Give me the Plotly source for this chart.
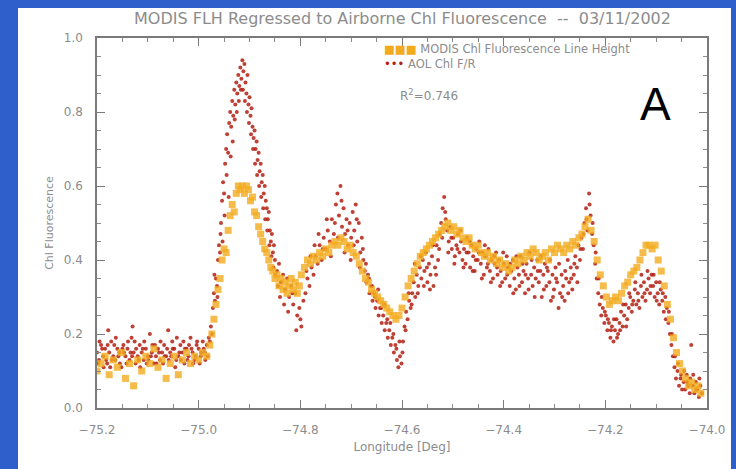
import plotly.graph_objects as go

# ---------------- data ----------------
modis_points = [
    (-75.200, 0.10), (-75.192, 0.12), (-75.184, 0.14), (-75.176, 0.09), (-75.168, 0.13),
    (-75.160, 0.11), (-75.152, 0.15), (-75.144, 0.08), (-75.136, 0.12), (-75.128, 0.06),
    (-75.120, 0.13), (-75.112, 0.10), (-75.104, 0.14), (-75.096, 0.12), (-75.088, 0.16),
    (-75.080, 0.11), (-75.072, 0.13), (-75.064, 0.08), (-75.056, 0.12), (-75.048, 0.14),
    (-75.040, 0.09), (-75.032, 0.13), (-75.024, 0.15), (-75.016, 0.12), (-75.008, 0.14),
    (-75.000, 0.13), (-74.992, 0.15), (-74.984, 0.14),
    (-74.978, 0.17), (-74.974, 0.20), (-74.970, 0.24), (-74.966, 0.28), (-74.962, 0.32),
    (-74.958, 0.35), (-74.954, 0.40), (-74.950, 0.43), (-74.946, 0.42), (-74.942, 0.48),
    (-74.938, 0.52), (-74.934, 0.55), (-74.930, 0.53), (-74.926, 0.58), (-74.922, 0.60),
    (-74.918, 0.59), (-74.914, 0.60), (-74.910, 0.58), (-74.906, 0.60), (-74.902, 0.59),
    (-74.898, 0.56), (-74.894, 0.57), (-74.890, 0.53), (-74.886, 0.52), (-74.882, 0.49),
    (-74.878, 0.47), (-74.874, 0.45), (-74.870, 0.43), (-74.866, 0.42), (-74.862, 0.40),
    (-74.858, 0.38), (-74.854, 0.37), (-74.850, 0.35), (-74.846, 0.36), (-74.842, 0.33),
    (-74.838, 0.35), (-74.834, 0.32), (-74.830, 0.34), (-74.826, 0.31), (-74.822, 0.33),
    (-74.818, 0.35), (-74.814, 0.32), (-74.810, 0.34), (-74.806, 0.31), (-74.802, 0.33),
    (-74.798, 0.36), (-74.792, 0.38), (-74.786, 0.40), (-74.780, 0.39), (-74.774, 0.41),
    (-74.768, 0.40), (-74.762, 0.42), (-74.756, 0.41), (-74.750, 0.43), (-74.744, 0.42),
    (-74.738, 0.44), (-74.732, 0.45), (-74.726, 0.44), (-74.720, 0.46), (-74.714, 0.45),
    (-74.708, 0.43), (-74.702, 0.44), (-74.696, 0.42), (-74.690, 0.41), (-74.684, 0.39),
    (-74.678, 0.37), (-74.672, 0.35), (-74.666, 0.34), (-74.660, 0.32), (-74.654, 0.31),
    (-74.648, 0.30), (-74.642, 0.29), (-74.636, 0.28), (-74.630, 0.27), (-74.624, 0.26),
    (-74.618, 0.25), (-74.612, 0.24), (-74.606, 0.25), (-74.600, 0.27), (-74.594, 0.30),
    (-74.588, 0.33), (-74.582, 0.35), (-74.576, 0.37), (-74.570, 0.39), (-74.564, 0.41),
    (-74.558, 0.42), (-74.552, 0.43), (-74.546, 0.44), (-74.540, 0.45), (-74.534, 0.46),
    (-74.528, 0.47), (-74.522, 0.48), (-74.516, 0.49), (-74.510, 0.50), (-74.504, 0.48),
    (-74.498, 0.49), (-74.492, 0.47), (-74.486, 0.48), (-74.480, 0.46), (-74.474, 0.45),
    (-74.468, 0.46), (-74.462, 0.44), (-74.456, 0.43), (-74.450, 0.44), (-74.444, 0.42),
    (-74.438, 0.41), (-74.432, 0.42), (-74.426, 0.40), (-74.420, 0.41), (-74.414, 0.39),
    (-74.408, 0.40), (-74.402, 0.38), (-74.396, 0.39), (-74.390, 0.37), (-74.384, 0.38),
    (-74.378, 0.40), (-74.372, 0.39), (-74.366, 0.41), (-74.360, 0.40), (-74.354, 0.42),
    (-74.348, 0.41), (-74.342, 0.43), (-74.336, 0.42), (-74.330, 0.40), (-74.324, 0.41),
    (-74.318, 0.42), (-74.312, 0.40), (-74.306, 0.43), (-74.300, 0.42), (-74.294, 0.44),
    (-74.288, 0.43), (-74.282, 0.42), (-74.276, 0.44), (-74.270, 0.43), (-74.264, 0.45),
    (-74.258, 0.44), (-74.252, 0.46), (-74.246, 0.47), (-74.240, 0.49), (-74.234, 0.51),
    (-74.228, 0.48), (-74.222, 0.45), (-74.216, 0.40), (-74.210, 0.36), (-74.204, 0.33),
    (-74.198, 0.30), (-74.192, 0.28), (-74.186, 0.29), (-74.180, 0.30), (-74.174, 0.29),
    (-74.168, 0.31), (-74.162, 0.33), (-74.156, 0.34), (-74.150, 0.36), (-74.144, 0.37),
    (-74.138, 0.38), (-74.132, 0.40), (-74.126, 0.42), (-74.120, 0.44), (-74.114, 0.44),
    (-74.108, 0.43), (-74.102, 0.44), (-74.096, 0.40), (-74.090, 0.37), (-74.084, 0.33),
    (-74.078, 0.28), (-74.072, 0.24), (-74.066, 0.19), (-74.060, 0.15), (-74.054, 0.12),
    (-74.048, 0.10), (-74.042, 0.08), (-74.036, 0.06), (-74.030, 0.07), (-74.024, 0.05),
    (-74.018, 0.06), (-74.012, 0.04),
]

aol_points = [
    # flat coastal segment
    (-75.200, 0.15), (-75.198, 0.12), (-75.196, 0.13), (-75.192, 0.17), (-75.190, 0.16),
    (-75.188, 0.14), (-75.184, 0.16), (-75.182, 0.13), (-75.180, 0.12), (-75.178, 0.21),
    (-75.176, 0.15), (-75.174, 0.11), (-75.172, 0.18), (-75.168, 0.14), (-75.166, 0.17),
    (-75.164, 0.13), (-75.160, 0.16), (-75.158, 0.14), (-75.156, 0.15), (-75.152, 0.11),
    (-75.150, 0.16), (-75.148, 0.17), (-75.144, 0.14), (-75.142, 0.12), (-75.140, 0.16),
    (-75.136, 0.13), (-75.134, 0.15), (-75.132, 0.19), (-75.130, 0.22), (-75.128, 0.15),
    (-75.126, 0.18), (-75.124, 0.12), (-75.120, 0.14), (-75.118, 0.13), (-75.116, 0.17),
    (-75.112, 0.15), (-75.110, 0.16), (-75.108, 0.13), (-75.104, 0.16), (-75.102, 0.12),
    (-75.100, 0.14), (-75.096, 0.20), (-75.094, 0.14), (-75.092, 0.15), (-75.088, 0.12),
    (-75.086, 0.17), (-75.084, 0.14), (-75.080, 0.16), (-75.078, 0.15), (-75.076, 0.13),
    (-75.072, 0.15), (-75.070, 0.12), (-75.068, 0.17), (-75.064, 0.14), (-75.062, 0.16),
    (-75.060, 0.21), (-75.056, 0.15), (-75.054, 0.14), (-75.052, 0.18), (-75.048, 0.16),
    (-75.046, 0.11), (-75.044, 0.13), (-75.040, 0.14), (-75.038, 0.15), (-75.036, 0.17),
    (-75.032, 0.15), (-75.030, 0.18), (-75.028, 0.12), (-75.024, 0.16), (-75.022, 0.13),
    (-75.020, 0.14), (-75.016, 0.19), (-75.014, 0.16), (-75.012, 0.15), (-75.008, 0.13),
    (-75.006, 0.14), (-75.004, 0.17), (-75.000, 0.16), (-74.998, 0.12), (-74.996, 0.14),
    (-74.992, 0.18), (-74.990, 0.16), (-74.988, 0.15), (-74.984, 0.17), (-74.982, 0.14),
    (-74.980, 0.19),
    # first bloom
    (-74.978, 0.18), (-74.976, 0.22), (-74.974, 0.20), (-74.972, 0.27), (-74.970, 0.31),
    (-74.968, 0.29), (-74.966, 0.35), (-74.964, 0.33), (-74.962, 0.40), (-74.960, 0.44),
    (-74.958, 0.42), (-74.956, 0.50), (-74.954, 0.56), (-74.952, 0.61), (-74.950, 0.58),
    (-74.948, 0.66), (-74.946, 0.70), (-74.944, 0.74), (-74.942, 0.69), (-74.940, 0.77),
    (-74.938, 0.80), (-74.936, 0.76), (-74.934, 0.83), (-74.932, 0.79), (-74.930, 0.86),
    (-74.928, 0.82), (-74.926, 0.88), (-74.924, 0.85), (-74.922, 0.90), (-74.920, 0.87),
    (-74.918, 0.92), (-74.916, 0.89), (-74.914, 0.94), (-74.912, 0.91), (-74.910, 0.93),
    (-74.908, 0.88), (-74.906, 0.85), (-74.904, 0.90), (-74.902, 0.82), (-74.900, 0.84),
    (-74.898, 0.79), (-74.896, 0.81), (-74.894, 0.76), (-74.892, 0.73), (-74.890, 0.75),
    (-74.888, 0.70), (-74.886, 0.72), (-74.884, 0.67), (-74.882, 0.69), (-74.880, 0.64),
    (-74.878, 0.66), (-74.876, 0.61), (-74.874, 0.63), (-74.872, 0.58), (-74.870, 0.60),
    (-74.868, 0.56), (-74.866, 0.54), (-74.864, 0.51), (-74.862, 0.53), (-74.860, 0.48),
    (-74.858, 0.45), (-74.856, 0.47), (-74.854, 0.42), (-74.852, 0.44), (-74.850, 0.40),
    (-74.846, 0.37), (-74.842, 0.39), (-74.838, 0.34), (-74.834, 0.36), (-74.830, 0.32),
    (-74.826, 0.35), (-74.822, 0.30), (-74.818, 0.33), (-74.814, 0.28), (-74.810, 0.31),
    (-74.806, 0.25), (-74.802, 0.27), (-74.798, 0.22), (-74.794, 0.29),
    # second bloom and trough
    (-74.790, 0.31), (-74.786, 0.35), (-74.782, 0.33), (-74.778, 0.38), (-74.774, 0.36),
    (-74.770, 0.41), (-74.766, 0.39), (-74.762, 0.44), (-74.758, 0.40), (-74.754, 0.46),
    (-74.750, 0.43), (-74.746, 0.48), (-74.742, 0.45), (-74.738, 0.51), (-74.734, 0.47),
    (-74.730, 0.55), (-74.727, 0.58), (-74.724, 0.52), (-74.721, 0.60), (-74.718, 0.49),
    (-74.715, 0.54), (-74.712, 0.47), (-74.709, 0.51), (-74.706, 0.44), (-74.703, 0.50),
    (-74.700, 0.46), (-74.697, 0.53), (-74.694, 0.48), (-74.691, 0.55), (-74.688, 0.45),
    (-74.685, 0.50), (-74.682, 0.42), (-74.679, 0.46), (-74.676, 0.40), (-74.673, 0.37),
    (-74.670, 0.34), (-74.667, 0.36), (-74.664, 0.31), (-74.661, 0.33), (-74.658, 0.29),
    (-74.655, 0.31), (-74.652, 0.27), (-74.649, 0.29), (-74.646, 0.25), (-74.643, 0.27),
    (-74.640, 0.23), (-74.637, 0.25), (-74.634, 0.21), (-74.631, 0.23), (-74.628, 0.19),
    (-74.625, 0.21), (-74.622, 0.17), (-74.619, 0.19), (-74.616, 0.15), (-74.613, 0.17),
    (-74.610, 0.13), (-74.607, 0.11), (-74.604, 0.14), (-74.601, 0.12), (-74.598, 0.18),
    (-74.595, 0.22), (-74.592, 0.26), (-74.589, 0.24), (-74.586, 0.29), (-74.583, 0.27),
    (-74.580, 0.31), (-74.577, 0.34), (-74.574, 0.30), (-74.571, 0.36), (-74.568, 0.33),
    (-74.565, 0.38), (-74.562, 0.35), (-74.559, 0.40), (-74.556, 0.37), (-74.553, 0.42),
    (-74.550, 0.34), (-74.547, 0.39), (-74.544, 0.36), (-74.541, 0.41), (-74.538, 0.33),
    (-74.535, 0.38), (-74.532, 0.44), (-74.529, 0.40), (-74.526, 0.47), (-74.523, 0.50),
    (-74.520, 0.54), (-74.517, 0.57), (-74.514, 0.51), (-74.511, 0.48), (-74.508, 0.45),
    (-74.505, 0.49), (-74.502, 0.43), (-74.499, 0.46), (-74.496, 0.41), (-74.493, 0.44),
    (-74.490, 0.47), (-74.487, 0.42), (-74.484, 0.45), (-74.481, 0.40), (-74.478, 0.43),
    (-74.475, 0.39), (-74.472, 0.46), (-74.469, 0.42), (-74.466, 0.38), (-74.463, 0.44),
    (-74.460, 0.41), (-74.457, 0.37), (-74.454, 0.43), (-74.451, 0.40), (-74.448, 0.45),
    (-74.445, 0.39), (-74.442, 0.42), (-74.439, 0.36), (-74.436, 0.41), (-74.433, 0.38),
    (-74.430, 0.43), (-74.427, 0.37), (-74.424, 0.40), (-74.421, 0.35), (-74.418, 0.39),
    (-74.415, 0.42), (-74.412, 0.36), (-74.409, 0.40), (-74.406, 0.37), (-74.403, 0.34),
    (-74.400, 0.39),
    # offshore plateau, third peak, drop-off
    (-74.397, 0.35), (-74.394, 0.41), (-74.391, 0.38), (-74.388, 0.33), (-74.385, 0.37),
    (-74.382, 0.40), (-74.379, 0.35), (-74.376, 0.32), (-74.373, 0.38), (-74.370, 0.36),
    (-74.367, 0.41), (-74.364, 0.34), (-74.361, 0.37), (-74.358, 0.31), (-74.355, 0.39),
    (-74.352, 0.35), (-74.349, 0.42), (-74.346, 0.36), (-74.343, 0.33), (-74.340, 0.38),
    (-74.337, 0.35), (-74.334, 0.40), (-74.331, 0.34), (-74.328, 0.37), (-74.325, 0.30),
    (-74.322, 0.36), (-74.319, 0.39), (-74.316, 0.33), (-74.313, 0.37), (-74.310, 0.34),
    (-74.307, 0.29), (-74.304, 0.36), (-74.301, 0.32), (-74.298, 0.38), (-74.295, 0.34),
    (-74.292, 0.27), (-74.289, 0.31), (-74.286, 0.36), (-74.283, 0.33), (-74.280, 0.29),
    (-74.277, 0.35), (-74.274, 0.40), (-74.271, 0.34), (-74.268, 0.38), (-74.265, 0.32),
    (-74.262, 0.36), (-74.259, 0.41), (-74.256, 0.38), (-74.253, 0.44), (-74.250, 0.40),
    (-74.247, 0.46), (-74.244, 0.43), (-74.241, 0.50), (-74.238, 0.54), (-74.235, 0.48),
    (-74.232, 0.58), (-74.229, 0.52), (-74.226, 0.47), (-74.223, 0.44), (-74.220, 0.39),
    (-74.217, 0.35), (-74.214, 0.31), (-74.211, 0.28), (-74.208, 0.25), (-74.205, 0.27),
    (-74.202, 0.23), (-74.199, 0.25), (-74.196, 0.21), (-74.193, 0.23), (-74.190, 0.19),
    (-74.187, 0.22), (-74.184, 0.18), (-74.181, 0.21), (-74.178, 0.24), (-74.175, 0.20),
    (-74.172, 0.23), (-74.169, 0.26), (-74.166, 0.22), (-74.163, 0.25), (-74.160, 0.28),
    (-74.157, 0.24), (-74.154, 0.27), (-74.151, 0.30), (-74.148, 0.26), (-74.145, 0.29),
    (-74.142, 0.32), (-74.139, 0.28), (-74.136, 0.31), (-74.133, 0.27), (-74.130, 0.33),
    (-74.127, 0.30), (-74.124, 0.34), (-74.121, 0.29), (-74.118, 0.32), (-74.115, 0.35),
    (-74.112, 0.31), (-74.109, 0.36), (-74.106, 0.33), (-74.103, 0.30), (-74.100, 0.34),
    (-74.097, 0.31), (-74.094, 0.28), (-74.091, 0.32), (-74.088, 0.29), (-74.085, 0.26),
    (-74.082, 0.30), (-74.079, 0.27), (-74.076, 0.23), (-74.073, 0.20), (-74.070, 0.17),
    (-74.067, 0.14), (-74.064, 0.11), (-74.061, 0.08), (-74.058, 0.10), (-74.055, 0.06),
    (-74.052, 0.08), (-74.049, 0.05), (-74.046, 0.07), (-74.043, 0.05), (-74.040, 0.09),
    (-74.037, 0.06), (-74.034, 0.04), (-74.031, 0.17), (-74.028, 0.06), (-74.025, 0.04),
    (-74.022, 0.07), (-74.019, 0.05), (-74.016, 0.03), (-74.013, 0.06), (-74.010, 0.04),
    # additional scattered samples (second pass of the band)
    (-75.195, 0.18), (-75.187, 0.11), (-75.179, 0.17), (-75.171, 0.13), (-75.163, 0.19),
    (-75.155, 0.12), (-75.147, 0.15), (-75.139, 0.18), (-75.131, 0.14), (-75.123, 0.16),
    (-75.115, 0.11), (-75.107, 0.18), (-75.099, 0.13), (-75.091, 0.17), (-75.083, 0.12),
    (-75.075, 0.18), (-75.067, 0.14), (-75.059, 0.13), (-75.051, 0.16), (-75.043, 0.19),
    (-75.035, 0.13), (-75.027, 0.16), (-75.019, 0.17), (-75.011, 0.12), (-75.003, 0.18),
    (-74.995, 0.15), (-74.987, 0.13),
    (-74.969, 0.36), (-74.963, 0.30), (-74.957, 0.47), (-74.953, 0.45), (-74.949, 0.52),
    (-74.945, 0.63), (-74.941, 0.57), (-74.937, 0.68), (-74.933, 0.72), (-74.929, 0.78),
    (-74.925, 0.80), (-74.921, 0.83), (-74.917, 0.86), (-74.913, 0.86), (-74.909, 0.83),
    (-74.905, 0.80), (-74.901, 0.77), (-74.897, 0.74), (-74.893, 0.70), (-74.889, 0.66),
    (-74.885, 0.63), (-74.881, 0.60), (-74.877, 0.57), (-74.873, 0.54), (-74.869, 0.51),
    (-74.865, 0.48), (-74.861, 0.44), (-74.857, 0.41), (-74.853, 0.38), (-74.849, 0.36),
    (-74.844, 0.33), (-74.840, 0.30), (-74.832, 0.28), (-74.824, 0.26), (-74.816, 0.31),
    (-74.808, 0.21), (-74.800, 0.24),
    (-74.788, 0.37), (-74.780, 0.41), (-74.772, 0.44), (-74.764, 0.47), (-74.756, 0.43),
    (-74.748, 0.51), (-74.740, 0.41), (-74.732, 0.50), (-74.726, 0.46), (-74.719, 0.56),
    (-74.713, 0.42), (-74.707, 0.48), (-74.701, 0.40), (-74.695, 0.44), (-74.689, 0.51),
    (-74.683, 0.38), (-74.677, 0.43), (-74.671, 0.39), (-74.665, 0.35), (-74.659, 0.33),
    (-74.653, 0.30), (-74.647, 0.32), (-74.641, 0.27), (-74.635, 0.28), (-74.629, 0.24),
    (-74.623, 0.23), (-74.617, 0.20), (-74.611, 0.16), (-74.605, 0.18), (-74.599, 0.15),
    (-74.593, 0.21), (-74.587, 0.31), (-74.581, 0.28), (-74.575, 0.39), (-74.569, 0.31),
    (-74.563, 0.41), (-74.557, 0.33), (-74.551, 0.38), (-74.545, 0.32), (-74.539, 0.44),
    (-74.533, 0.36), (-74.527, 0.43), (-74.521, 0.46), (-74.515, 0.53), (-74.509, 0.42),
    (-74.503, 0.46), (-74.497, 0.39), (-74.491, 0.43), (-74.485, 0.48), (-74.479, 0.38),
    (-74.473, 0.42), (-74.467, 0.45), (-74.461, 0.37), (-74.455, 0.40), (-74.449, 0.42),
    (-74.443, 0.35), (-74.437, 0.44), (-74.431, 0.39), (-74.425, 0.34), (-74.419, 0.41),
    (-74.413, 0.38), (-74.407, 0.33), (-74.401, 0.42),
    (-74.393, 0.36), (-74.387, 0.39), (-74.381, 0.31), (-74.375, 0.41), (-74.369, 0.33),
    (-74.363, 0.39), (-74.357, 0.36), (-74.351, 0.32), (-74.345, 0.40), (-74.339, 0.30),
    (-74.333, 0.37), (-74.327, 0.41), (-74.321, 0.32), (-74.315, 0.38), (-74.309, 0.40),
    (-74.303, 0.30), (-74.297, 0.35), (-74.291, 0.39), (-74.285, 0.30), (-74.279, 0.37),
    (-74.273, 0.31), (-74.267, 0.35), (-74.261, 0.39), (-74.255, 0.34), (-74.249, 0.43),
    (-74.243, 0.47), (-74.237, 0.51), (-74.231, 0.55), (-74.225, 0.50), (-74.219, 0.42),
    (-74.213, 0.35), (-74.207, 0.30), (-74.201, 0.26), (-74.195, 0.24), (-74.189, 0.21),
    (-74.183, 0.24), (-74.177, 0.19), (-74.171, 0.21), (-74.165, 0.28), (-74.159, 0.22),
    (-74.153, 0.31), (-74.147, 0.28), (-74.141, 0.34), (-74.135, 0.29), (-74.129, 0.36),
    (-74.123, 0.31), (-74.117, 0.37), (-74.111, 0.33), (-74.105, 0.36), (-74.099, 0.29),
    (-74.093, 0.34), (-74.087, 0.31), (-74.081, 0.24), (-74.075, 0.26), (-74.069, 0.20),
    (-74.063, 0.14), (-74.057, 0.12), (-74.051, 0.09), (-74.045, 0.10), (-74.039, 0.07),
    (-74.033, 0.08), (-74.027, 0.09), (-74.021, 0.05), (-74.015, 0.08),
]

modis_lon = [p[0] for p in modis_points]
modis_chl = [p[1] for p in modis_points]
aol_lon = [p[0] for p in aol_points]
aol_chl = [p[1] for p in aol_points]

x_ticks = [-75.2, -75.0, -74.8, -74.6, -74.4, -74.2, -74.0]
x_tick_labels = ["\u221275.2", "\u221275.0", "\u221274.8", "\u221274.6", "\u221274.4", "\u221274.2", "\u221274.0"]
y_ticks = [0.0, 0.2, 0.4, 0.6, 0.8, 1.0]
y_tick_labels = ["0.0", "0.2", "0.4", "0.6", "0.8", "1.0"]

title_text = "MODIS FLH Regressed to Airborne Chl Fluorescence  --  03/11/2002"
legend_modis = "MODIS Chl Fluorescence Line Height"
legend_aol = "AOL Chl F/R"
r2_text = "R<sup>2</sup>=0.746"

# ---------------- figure ----------------
W, H = 736, 469
L, R, T, B = 97, 29, 38, 61
pw, ph = W - L - R, H - T - B

def px(x):
    return (x - L) / pw

def py(y):
    return (H - B - y) / ph

grey = "#8c8c8c"
font = "DejaVu Sans"
modis_color = "#f2ab1e"
aol_color = "#b41e12"

fig = go.Figure()
fig.add_trace(go.Scatter(
    x=aol_lon, y=aol_chl, mode="markers", name=legend_aol,
    marker=dict(symbol="circle", size=4, color=aol_color, opacity=0.85, line=dict(width=0)),
))
fig.add_trace(go.Scatter(
    x=modis_lon, y=modis_chl, mode="markers", name=legend_modis,
    marker=dict(symbol="square", size=7, color=modis_color, opacity=0.8, line=dict(width=0)),
))

axis_common = dict(
    showgrid=False, zeroline=False, showline=True, linecolor="#7a7a7a", linewidth=1.5,
    mirror="allticks", ticks="inside", ticklen=8, tickcolor="#7a7a7a", tickwidth=1,
    tickfont=dict(family=font, size=12, color=grey),
)

fig.update_xaxes(
    range=[-75.2, -74.0], tickvals=x_ticks, ticktext=x_tick_labels,
    minor=dict(ticks="inside", ticklen=4, dtick=0.05, tick0=-75.2, tickcolor="#8a8a8a"),
    ticklabelstandoff=10,
    title=dict(text="Longitude [Deg]", font=dict(family=font, size=12, color=grey), standoff=6),
    **axis_common,
)
fig.update_yaxes(
    range=[0.0, 1.0], tickvals=y_ticks, ticktext=y_tick_labels,
    minor=dict(ticks="inside", ticklen=4, dtick=0.05, tick0=0, tickcolor="#8a8a8a"),
    ticklabelstandoff=10,
    title=dict(text="Chl Fluorescence", font=dict(family=font, size=11, color=grey), standoff=8),
    **axis_common,
)

fig.add_shape(type="rect", xref="paper", yref="paper", layer="below",
              x0=px(18), x1=px(731), y0=py(472), y1=py(8),
              fillcolor="white", line=dict(width=0))

fig.add_annotation(xref="paper", yref="paper", x=0.5, y=py(18), xanchor="center", yanchor="middle",
                   text=title_text, showarrow=False,
                   font=dict(family=font, size=16, color=grey))
fig.add_annotation(xref="paper", yref="paper", x=px(382), y=py(49), xanchor="left", yanchor="middle",
                   text=f"<span style='color:{modis_color}'>\u25a0\u25a0\u25a0</span> {legend_modis}",
                   showarrow=False, font=dict(family=font, size=11.5, color=grey))
fig.add_annotation(xref="paper", yref="paper", x=px(382), y=py(64), xanchor="left", yanchor="middle",
                   text=f"<span style='color:{aol_color}'>\u2022\u2022\u2022</span> {legend_aol}",
                   showarrow=False, font=dict(family=font, size=11.5, color=grey))
fig.add_annotation(xref="paper", yref="paper", x=px(398), y=py(95), xanchor="left", yanchor="middle",
                   text=r2_text, showarrow=False, font=dict(family=font, size=12, color=grey))
fig.add_annotation(xref="paper", yref="paper", x=px(655), y=py(104), xanchor="center", yanchor="middle",
                   text="A", showarrow=False, font=dict(family="Liberation Sans", size=46, color="black"))

fig.update_layout(
    width=W, height=H, margin=dict(l=L, r=R, t=T, b=B),
    paper_bgcolor="#2e5fca", plot_bgcolor="white", showlegend=False,
)

fig.write_html("out.html")
